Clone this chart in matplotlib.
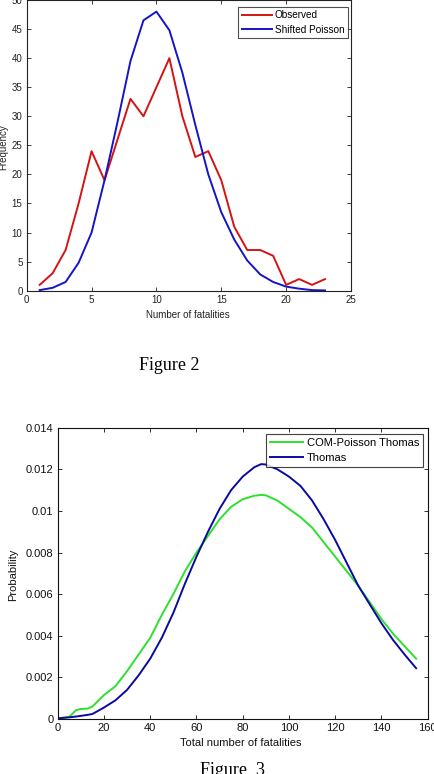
import matplotlib
matplotlib.use("Agg")
import matplotlib.pyplot as plt

# ---------------- Figure 2 data ----------------
fatalities = list(range(1, 24))
observed = [1, 3, 7, 15, 24, 19, 26, 33, 30, 35, 40, 30, 23, 24, 19, 11, 7, 7, 6, 1, 2, 1, 2]
shifted_poisson = [0.1, 0.5, 1.5, 4.8, 10, 19, 29, 39.5, 46.5, 48, 44.8, 37.5, 28.5, 20,
                   13.5, 8.8, 5.2, 2.8, 1.5, 0.7, 0.35, 0.1, 0.05]

# ---------------- Figure 3 data ----------------
total_x = [0, 5, 8, 10, 13, 15, 20, 25, 30, 35, 40, 45, 50, 55, 60, 65, 70, 75, 80, 85,
           88, 90, 95, 100, 105, 110, 115, 120, 125, 130, 135, 140, 145, 150, 155]
com_poisson_thomas = [0.00003, 0.0001, 0.00043, 0.00048, 0.0005, 0.0006, 0.00115, 0.00158,
                      0.0023, 0.0031, 0.0039, 0.0050, 0.0060, 0.0071, 0.0080, 0.0088, 0.0096,
                      0.0102, 0.01056, 0.01073, 0.01077, 0.01075, 0.0105, 0.0101, 0.0097,
                      0.0092, 0.0085, 0.0078, 0.0071, 0.0064, 0.0056, 0.0048, 0.0041,
                      0.0035, 0.0029]
thomas = [0.00003, 0.00008, 0.00012, 0.00015, 0.0002, 0.00024, 0.00055, 0.0009, 0.0014,
          0.0021, 0.0029, 0.0039, 0.0051, 0.0065, 0.0078, 0.0090, 0.0101, 0.0110, 0.01165,
          0.0121, 0.01225, 0.01223, 0.0120, 0.01165, 0.0112, 0.0105, 0.0096, 0.0086,
          0.0075, 0.0064, 0.0055, 0.0046, 0.0038, 0.0031, 0.00244]

plt.rcParams['font.family'] = ['Liberation Sans', 'DejaVu Sans']

W, H = 434, 774
fig = plt.figure(figsize=(W / 100, H / 100), dpi=100)
fig.patch.set_facecolor('white')


def fx(px):
    return px / W


def fy(py):
    return 1 - py / H


# ---- Axes 1 ----
ax1 = fig.add_axes([fx(26.7), fy(290.7), fx(351 - 26.7), 290.7 / H])
ax1.plot(fatalities, observed, color='#d41414', lw=1.4, label='Observed')
ax1.plot(fatalities, shifted_poisson, color='#1414c8', lw=1.4, label='Shifted Poisson')
ax1.set_xlim(0, 25)
ax1.set_ylim(0, 50)
ax1.set_xticks(range(0, 26, 5))
ax1.set_yticks(range(0, 51, 5))
ax1.tick_params(direction='in', top=True, right=True, labelsize=7, length=3,
                width=0.6, pad=3, colors='#222222')
for s in ax1.spines.values():
    s.set_linewidth(0.8)
    s.set_color('#222222')
leg1 = ax1.legend(loc='upper right', bbox_to_anchor=(0.99, 0.977), fontsize=7.2,
                  frameon=True, fancybox=False, edgecolor='#222222', handlelength=3.0,
                  handletextpad=0.3, borderpad=0.35, labelspacing=0.45, borderaxespad=0)
leg1.get_frame().set_linewidth(0.8)
fig.text(fx(188), fy(315), 'Number of fatalities', ha='center', va='center',
         fontsize=7, color='#222222')
fig.text(fx(3), fy(147), 'Frequency', ha='center', va='center', rotation=90,
         fontsize=7, color='#222222')

fig.text(fx(169), fy(366), 'Figure 2', ha='center', va='center', fontsize=13,
         family=['Liberation Serif', 'DejaVu Serif'])

# ---- Axes 2 ----
ax2 = fig.add_axes([fx(57.7), fy(719), fx(427.7 - 57.7), (719 - 427.7) / H])
ax2.plot(total_x, com_poisson_thomas, color='#2ee02e', lw=1.4, label='COM-Poisson Thomas')
ax2.plot(total_x, thomas, color='#0a0aa0', lw=1.4, label='Thomas')
ax2.set_xlim(0, 160)
ax2.set_ylim(0, 0.014)
ax2.set_xticks(range(0, 161, 20))
yt = [0, 0.002, 0.004, 0.006, 0.008, 0.01, 0.012, 0.014]
ax2.set_yticks(yt)
ax2.set_yticklabels(['0', '0.002', '0.004', '0.006', '0.008', '0.01', '0.012', '0.014'])
ax2.tick_params(direction='in', top=True, right=True, labelsize=8, length=3,
                width=0.6, pad=3, colors='#111111')
for s in ax2.spines.values():
    s.set_linewidth(0.8)
    s.set_color('#111111')
leg2 = ax2.legend(loc='upper right', bbox_to_anchor=(0.987, 0.978), fontsize=8,
                  frameon=True, fancybox=False, edgecolor='#111111', handlelength=3.0,
                  handletextpad=0.3, borderpad=0.35, labelspacing=0.45, borderaxespad=0)
leg2.get_frame().set_linewidth(0.8)
fig.text(fx(241), fy(742.7), 'Total number of fatalities', ha='center', va='center',
         fontsize=8, color='#111111')
fig.text(fx(13), fy(575), 'Probability', ha='center', va='center', rotation=90,
         fontsize=8, color='#111111')

fig.text(fx(232), fy(762), 'Figure  3', ha='center', va='top', fontsize=13,
         family=['Liberation Serif', 'DejaVu Serif'])

fig.savefig('out.png', dpi=100)
